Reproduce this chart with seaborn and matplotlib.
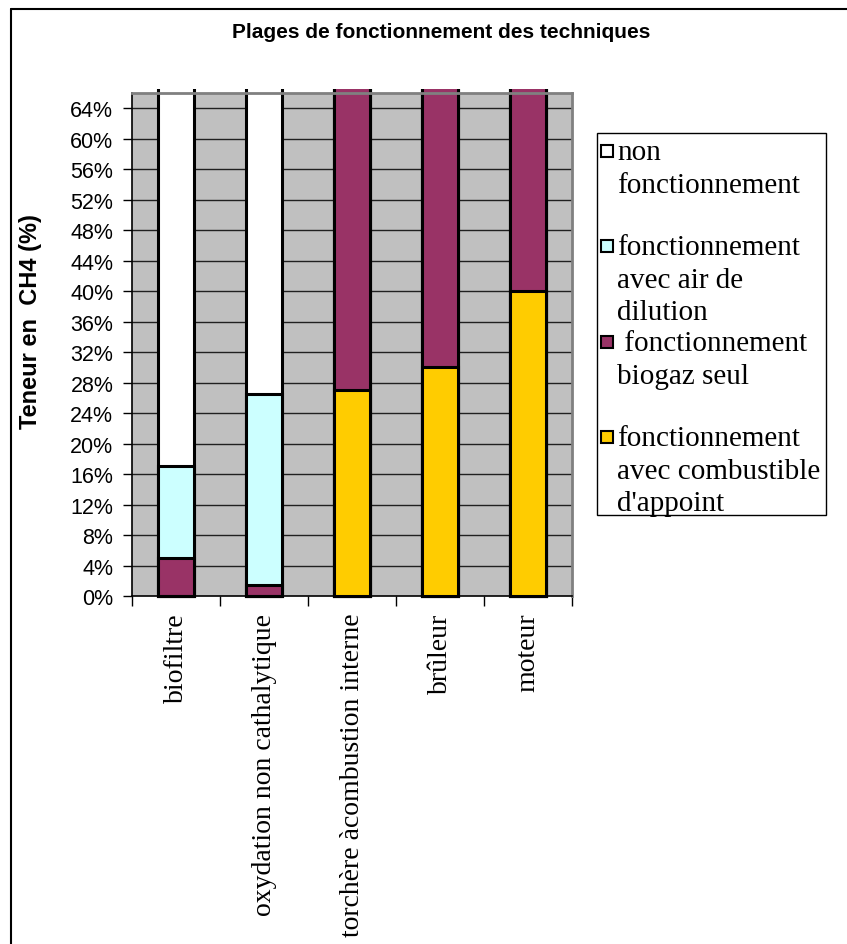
import numpy as np
import pandas as pd
import matplotlib
matplotlib.use("Agg")
import matplotlib.pyplot as plt
import seaborn as sns
from matplotlib.patches import Rectangle
from matplotlib.lines import Line2D
from matplotlib.ticker import FixedLocator, FuncFormatter

# ---------------- data ----------------
categories = ["biofiltre", "oxydation non cathalytique",
              "torchère àcombustion interne", "brûleur", "moteur"]
combustible = [0.0, 0.0, 27.0, 30.0, 40.0]      # fonctionnement avec combustible d'appoint
biogaz_seul = [5.0, 1.5, 73.0, 70.0, 60.0]      # fonctionnement biogaz seul
air_dilution = [12.0, 25.0, 0.0, 0.0, 0.0]      # fonctionnement avec air de dilution
non_fonct = [83.0, 73.5, 0.0, 0.0, 0.0]         # non fonctionnement
series_names = ["non\nfonctionnement",
                "fonctionnement\navec air de\ndilution",
                " fonctionnement\nbiogaz seul",
                "fonctionnement\navec combustible\nd'appoint"]
ytick_values = list(range(0, 65, 4))

colors = {"non": "#FFFFFF", "dil": "#CCFFFF", "bio": "#993366", "comb": "#FFCC00"}

W, H = 847, 945
sns.set_style("white")
plt.rcParams["font.family"] = ["Liberation Sans", "DejaVu Sans"]
plt.rcParams["text.color"] = "black"
plt.rcParams["xtick.color"] = "black"
plt.rcParams["ytick.color"] = "black"
plt.rcParams["axes.labelcolor"] = "black"
fig = plt.figure(figsize=(W / 100, H / 100), dpi=100)


def fx(x):
    return x / W


def fy(y):
    return 1 - y / H


ax_l, ax_r, ax_t, ax_b = 132, 572, 94, 597
ax = fig.add_axes([fx(ax_l), fy(ax_b), fx(ax_r - ax_l), fy(ax_t) - fy(ax_b)])
ax.set_facecolor("#C0C0C0")

df = pd.DataFrame({"cat": categories, "comb": combustible, "bio": biogaz_seul,
                   "dil": air_dilution, "non": non_fonct})
df["c1"] = df["comb"]
df["c2"] = df["c1"] + df["bio"]
df["c3"] = df["c2"] + df["dil"]
df["c4"] = df["c3"] + df["non"]

# draw cumulative layers from tallest to shortest
layers = [("c4", colors["non"]), ("c3", colors["dil"]),
          ("c2", colors["bio"]), ("c1", colors["comb"])]
for col, colr in layers:
    sns.barplot(data=df, x="cat", y=col, order=categories, color=colr,
                width=0.41, edgecolor="black", linewidth=2.2, ax=ax,
                saturation=1, errorbar=None, zorder=3)

ax.set_ylim(0, 66)
ax.set_xlim(-0.5, len(categories) - 0.5)

# clip bars slightly above the axes top
clip_rect = Rectangle((fx(ax_l) - 0.01, fy(ax_b) - 0.01),
                      fx(ax_r - ax_l) + 0.02, fy(90) - fy(ax_b) + 0.01,
                      transform=fig.transFigure, facecolor="none", edgecolor="none")
fig.add_artist(clip_rect)
clip_rect.set_visible(False)
for p in ax.patches:
    p.set_clip_path(clip_rect)

# grid
for v in ytick_values[1:]:
    ax.axhline(v, color="#202020", linewidth=1.0, zorder=1)

ax.yaxis.set_major_locator(FixedLocator(ytick_values))
ax.yaxis.set_major_formatter(FuncFormatter(lambda v, p: f"{int(round(v))}%"))
ax.tick_params(axis="y", which="major", direction="out", length=6.5, width=1,
               color="black", labelsize=15.5, pad=7, left=True, labelcolor="black")
for lab in ax.get_yticklabels():
    lab.set_fontfamily(["Liberation Sans", "DejaVu Sans"])

# x: labels at centers, ticks at boundaries
ax.set_xticks(range(len(categories)))
ax.set_xticklabels(categories, rotation=90, fontsize=20,
                   fontfamily=["Liberation Serif", "DejaVu Serif"], va="top", ha="center",
                   color="black")
ax.tick_params(axis="x", which="major", length=0, pad=12)
ax.set_xticks(np.arange(-0.5, len(categories), 1.0), minor=True)
ax.tick_params(axis="x", which="minor", direction="out", length=7, width=1,
               color="black", bottom=True)

ax.set_xlabel("")
ax.set_ylabel("")

for s in ["top", "right"]:
    ax.spines[s].set_color("#808080")
    ax.spines[s].set_linewidth(2)
for s in ["left", "bottom"]:
    ax.spines[s].set_color("black")
    ax.spines[s].set_linewidth(1.2)
for s in ax.spines.values():
    s.set_zorder(4)

# y label
fig.text(fx(30), fy(322), "Teneur en  CH4 (%)", rotation=90, ha="center", va="center",
         fontsize=17, fontweight="bold", family=["Liberation Sans", "DejaVu Sans"],
         color="black")

# title
fig.text(fx(441), fy(32), "Plages de fonctionnement des techniques", ha="center",
         va="center", fontsize=15, fontweight="bold", family=["Liberation Sans", "DejaVu Sans"],
         color="black")

# legend (manual, Excel-like)
fig.add_artist(Rectangle((fx(597), fy(516)), fx(826 - 597), fy(134) - fy(516),
                         transform=fig.transFigure, facecolor="white",
                         edgecolor="black", linewidth=1))
leg_colors = [colors["non"], colors["dil"], colors["bio"], colors["comb"]]
leg_y = [152, 247, 343, 438]
for name, colr, yy in zip(series_names, leg_colors, leg_y):
    fig.add_artist(Rectangle((fx(601), fy(yy + 6)), fx(12), fy(yy - 6) - fy(yy + 6),
                             transform=fig.transFigure, facecolor=colr,
                             edgecolor="black", linewidth=1.5))
    fig.text(fx(617), fy(yy - 12), name, ha="left", va="top", fontsize=21,
             linespacing=1.33, family=["Liberation Serif", "DejaVu Serif"], color="black")

# outer border (top and left)
fig.add_artist(Line2D([fx(11), 1.0], [fy(10), fy(10)], transform=fig.transFigure,
                      color="black", linewidth=1.5))
fig.add_artist(Line2D([fx(11), fx(11)], [fy(10), 0.0], transform=fig.transFigure,
                      color="black", linewidth=1.5))

fig.savefig("out.png", dpi=100)
